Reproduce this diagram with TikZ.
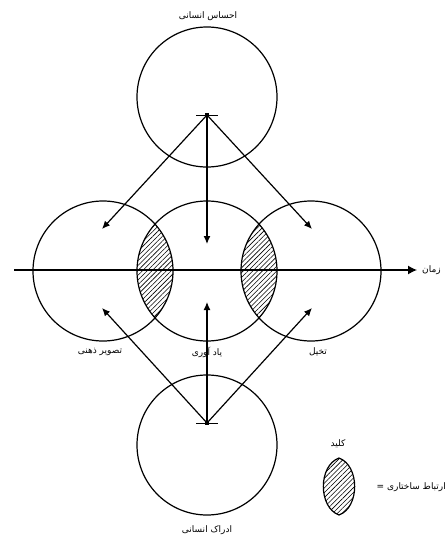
\documentclass[tikz,border=0pt]{standalone}
\usepackage{fontspec}
\newfontfamily\fa[Script=Arabic]{DejaVu Sans}
\TeXXeTstate=1
\usetikzlibrary{arrows.meta,patterns.meta}
\tikzset{
  ring/.style={draw,circle,line width=1.2pt,minimum size=140pt,inner sep=0pt},
  conn/.style={line width=1.2pt,-{Latex[length=8pt,width=7pt]}},
  lbl/.style={font=\fa\fontsize{9}{11}\selectfont,inner sep=0pt},
  hatch/.style={pattern={Lines[angle=45,distance=3.4pt,line width=0.6pt]}},
}
\begin{document}
\begin{tikzpicture}[x=1pt,y=-1pt]
\useasboundingbox[fill=white] (0,0) rectangle (446,543);
% hatched lenses
\begin{scope}
  \clip (103,271) circle (70pt);
  \fill[hatch] (207,271) circle (70pt);
\end{scope}
\begin{scope}
  \clip (311,271) circle (70pt);
  \fill[hatch] (207,271) circle (70pt);
\end{scope}
% circles
\node[ring] (top) at (207,97) {};
\node[ring] (left) at (103,271) {};
\node[ring] (mid) at (207,271) {};
\node[ring] (right) at (311,271) {};
\node[ring] (bot) at (207,445) {};
% axis
\coordinate (axs) at (14,270);
\coordinate (axe) at (417,270);
\draw[line width=1.2pt,-{Latex[length=9pt,width=9pt]}] (axs) -- (axe);
% star points
\coordinate (ts) at (207,115);
\coordinate (bs) at (207,423);
\foreach \s in {ts,bs}{
  \draw[line width=0.8pt] ([xshift=-11pt]\s) -- ([xshift=11pt]\s);
  \fill ([xshift=-2pt,yshift=-2pt]\s) rectangle ([xshift=2pt,yshift=2pt]\s);
}
\draw[line width=0.8pt] (ts) -- ([yshift=-5pt]ts);
\draw[line width=0.8pt] (bs) -- ([yshift=5pt]bs);
% arrow ends
\coordinate (tl) at (102,229);
\coordinate (tm) at (207,244);
\coordinate (tr) at (312,229);
\coordinate (bl) at (102,308);
\coordinate (bm) at (207,302);
\coordinate (br) at (312,308);
\draw[conn] (ts) -- (tl);
\draw[conn] (ts) -- (tm);
\draw[conn] (ts) -- (tr);
\draw[conn] (bs) -- (bl);
\draw[conn] (bs) -- (bm);
\draw[conn] (bs) -- (br);
% labels
\node[lbl] (ltop) at (208,16) {\beginR احساس انسانی\endR};
\node[lbl] (lbot) at (207,530) {\beginR ادراک انسانی\endR};
\node[lbl] (lleft) at (100,352) {\beginR تصویر ذهنی\endR};
\node[lbl] (lmid) at (207,352) {\beginR یاد آوری\endR};
\node[lbl] (lright) at (318,352) {\beginR تخیل\endR};
\node[lbl,anchor=west] (ltime) at (422,270) {\beginR زمان\endR};
% legend
\node[lbl] (lkey) at (338,444) {\beginR کلید\endR};
\coordinate (ka) at (339,458);
\coordinate (kb) at (339,515);
\fill[hatch] (ka) to[out=-20,in=20] (kb) to[out=160,in=200] (ka);
\draw[line width=1.2pt] (ka) to[out=-20,in=20] (kb) to[out=160,in=200] (ka);
\node[lbl,anchor=east] (lrel) at (446,487) {\beginR ارتباط ساختاری =\endR};
\end{tikzpicture}
\end{document}
